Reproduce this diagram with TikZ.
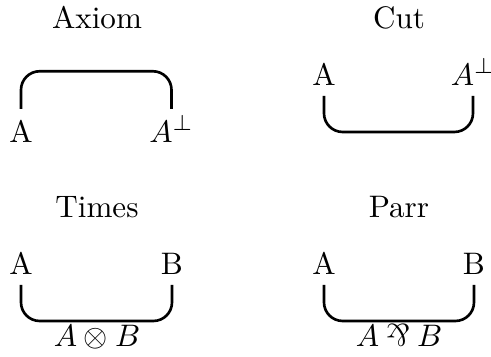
\documentclass[tikz,border=0pt]{standalone}
\usepackage{graphicx}
\newcommand{\myparr}{\mathbin{\rotatebox[origin=c]{180}{$\&$}}}
\tikzset{
  lbl/.style={anchor=base, inner sep=3.33pt},
  wire/.style={line width=0.85pt, rounded corners=6pt}
}
\begin{document}
\begin{tikzpicture}[x=0.3215pt, y=-0.3215pt]
\useasboundingbox (0,0) rectangle (491,356);
% Axiom
\node[lbl] (tax) at (97,28) {Axiom};
\node[lbl] (axa) at (21,142) {A};
\node[lbl] (axb) at (171.5,142) {$A^{\perp}$};
\draw[wire] (axa.north) -- ++(0,-37.5) -| (axb.north |- axa.north);
% Cut
\node[lbl] (tcut) at (399,28) {Cut};
\node[lbl] (cuta) at (324,85) {A};
\node[lbl] (cutb) at (473,85) {$A^{\perp}$};
\draw[wire] (cuta.south) -- ++(0,36) -| (cutb.south);
% Times
\node[lbl] (ttimes) at (97,217) {Times};
\node[lbl] (ta) at (21,274) {A};
\node[lbl] (tb) at (172,274) {B};
\draw[wire] (ta.south) -- ++(0,36) -| (tb.south);
\node[lbl] (tres) at (97,346) {$A\otimes B$};
% Parr
\node[lbl] (tparr) at (399,217) {Parr};
\node[lbl] (pa) at (324,274) {A};
\node[lbl] (pb) at (474,274) {B};
\draw[wire] (pa.south) -- ++(0,36) -| (pb.south);
\node[lbl] (pres) at (399,346) {$A\myparr B$};
\end{tikzpicture}
\end{document}
